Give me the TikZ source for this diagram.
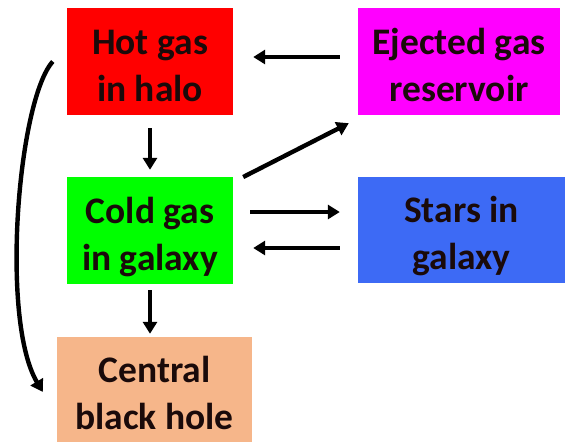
\documentclass[tikz,border=0pt]{standalone}
\usepackage{fontspec}
\setmainfont{Carlito}
\usetikzlibrary{arrows.meta}
\definecolor{hotred}{HTML}{FF0000}
\definecolor{ejmag}{HTML}{FF00FF}
\definecolor{coldgreen}{HTML}{00FF00}
\definecolor{starblue}{HTML}{3D6AF5}
\definecolor{bhpeach}{HTML}{F6B68A}
\definecolor{txt}{HTML}{1A0A0A}
\newcommand{\twolines}[2]{\raisebox{-7pt}[\height][\depth]{\begin{tabular}{@{}c@{}}#1\\#2\end{tabular}}}
\begin{document}
\begin{tikzpicture}[x=1pt,y=-1pt,
  box/.style={rectangle, inner sep=0pt, align=center, text=txt,
    font=\fontsize{37.5}{47}\selectfont\bfseries},
  arr/.style={line width=4.4pt, -{Triangle[length=12pt,width=14pt]}}]
\useasboundingbox (0,0) rectangle (574,445);
\node[box, fill=hotred, minimum width=166pt, minimum height=107pt] (hot) at (150,61.5) {\twolines{Hot gas}{in halo}};
\node[box, fill=ejmag, minimum width=202pt, minimum height=107pt] (ej) at (459,61.5) {\twolines{Ejected gas}{reservoir}};
\node[box, fill=coldgreen, minimum width=166pt, minimum height=107pt] (cold) at (150,230.5) {\twolines{Cold gas}{in galaxy}};
\node[box, fill=starblue, minimum width=207pt, minimum height=106pt] (stars) at (461.5,230) {\twolines{Stars in}{galaxy}};
\node[box, fill=bhpeach, minimum width=195pt, minimum height=105pt] (bh) at (154.5,389.5) {\twolines{Central}{black hole}};
% connectors
\draw[arr] ([xshift=-18pt,yshift=4.5pt]ej.west) -- ([xshift=20pt,yshift=4.5pt]hot.east);
\draw[arr] ([yshift=-13pt]hot.south) -- ([yshift=7pt]cold.north);
\draw[arr] ([xshift=10pt,yshift=53.5pt]cold.east) -- ([xshift=-9pt,yshift=-8pt]ej.south west);
\draw[arr] ([xshift=17pt,yshift=18.5pt]cold.east) -- ([xshift=-18pt,yshift=18pt]stars.west);
\draw[arr] ([xshift=-18pt,yshift=-18pt]stars.west) -- ([xshift=20pt,yshift=-17.5pt]cold.east);
\draw[arr] ([yshift=-6pt]cold.south) -- ([xshift=-4.5pt,yshift=3pt]bh.north);
\coordinate (cstart) at ([xshift=-14pt]hot.west);
\coordinate (cend) at ([xshift=-14pt,yshift=-2.5pt]bh.west);
\draw[arr] (cstart) .. controls (18,100) and (0,320) .. (cend);
\end{tikzpicture}
\end{document}
